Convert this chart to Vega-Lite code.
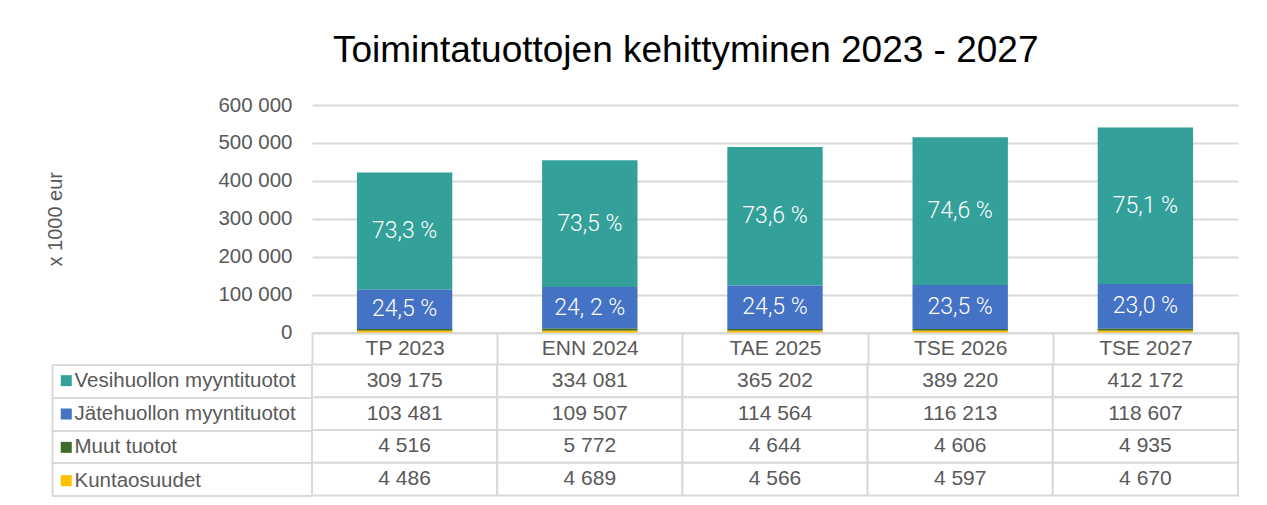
{
  "$schema": "https://vega.github.io/schema/vega-lite/v6.json",
  "background": "white",
  "padding": {"left": 45, "top": 32, "right": 28, "bottom": 9},
  "title": {
    "text": "Toimintatuottojen kehittyminen 2023 - 2027",
    "font": "Liberation Sans",
    "fontSize": 37,
    "fontWeight": "normal",
    "color": "#000000",
    "anchor": "start",
    "frame": "group",
    "dx": 21,
    "offset": 25
  },
  "data": {
    "values": [
      {"cat": "TP 2023", "series": "Vesihuollon myyntituotot", "k": 4, "value": 309175, "lbl": "73,3  %"},
      {"cat": "TP 2023", "series": "Jätehuollon myyntituotot", "k": 3, "value": 103481, "lbl": "24,5 %"},
      {"cat": "TP 2023", "series": "Muut tuotot", "k": 2, "value": 4516, "lbl": ""},
      {"cat": "TP 2023", "series": "Kuntaosuudet", "k": 1, "value": 4486, "lbl": ""},
      {"cat": "ENN 2024", "series": "Vesihuollon myyntituotot", "k": 4, "value": 334081, "lbl": "73,5 %"},
      {"cat": "ENN 2024", "series": "Jätehuollon myyntituotot", "k": 3, "value": 109507, "lbl": "24, 2 %"},
      {"cat": "ENN 2024", "series": "Muut tuotot", "k": 2, "value": 5772, "lbl": ""},
      {"cat": "ENN 2024", "series": "Kuntaosuudet", "k": 1, "value": 4689, "lbl": ""},
      {"cat": "TAE 2025", "series": "Vesihuollon myyntituotot", "k": 4, "value": 365202, "lbl": "73,6 %"},
      {"cat": "TAE 2025", "series": "Jätehuollon myyntituotot", "k": 3, "value": 114564, "lbl": "24,5 %"},
      {"cat": "TAE 2025", "series": "Muut tuotot", "k": 2, "value": 4644, "lbl": ""},
      {"cat": "TAE 2025", "series": "Kuntaosuudet", "k": 1, "value": 4566, "lbl": ""},
      {"cat": "TSE 2026", "series": "Vesihuollon myyntituotot", "k": 4, "value": 389220, "lbl": "74,6 %"},
      {"cat": "TSE 2026", "series": "Jätehuollon myyntituotot", "k": 3, "value": 116213, "lbl": "23,5 %"},
      {"cat": "TSE 2026", "series": "Muut tuotot", "k": 2, "value": 4606, "lbl": ""},
      {"cat": "TSE 2026", "series": "Kuntaosuudet", "k": 1, "value": 4597, "lbl": ""},
      {"cat": "TSE 2027", "series": "Vesihuollon myyntituotot", "k": 4, "value": 412172, "lbl": "75,1 %"},
      {"cat": "TSE 2027", "series": "Jätehuollon myyntituotot", "k": 3, "value": 118607, "lbl": "23,0 %"},
      {"cat": "TSE 2027", "series": "Muut tuotot", "k": 2, "value": 4935, "lbl": ""},
      {"cat": "TSE 2027", "series": "Kuntaosuudet", "k": 1, "value": 4670, "lbl": ""}
    ]
  },
  "bounds": "flush",
  "spacing": 31.5,
  "vconcat": [
    {
      "width": 926,
      "height": 227.5,
      "encoding": {
        "x": {
          "field": "cat", "type": "nominal", "sort": null, "title": null,
          "scale": {"paddingInner": 0, "paddingOuter": 0},
          "axis": {
            "labelAngle": 0,
            "labelFont": "Liberation Sans",
            "labelFontSize": 21,
            "labelColor": "#595959",
            "labelBaseline": "middle",
            "labelPadding": -16,
            "tickBand": "extent",
            "tickSize": 31.5,
            "tickColor": "#d9d9d9",
            "tickWidth": 2,
            "domainColor": "#d9d9d9",
            "domainWidth": 2,
            "grid": false
          }
        },
        "y": {
          "field": "value", "type": "quantitative", "stack": "zero",
          "scale": {"domain": [0, 600000], "nice": false},
          "axis": {
            "values": [0, 100000, 200000, 300000, 400000, 500000, 600000],
            "format": ",d",
            "labelOverlap": false,
            "labelSeparation": 0,
            "title": "x 1000 eur",
            "titleX": -251,
            "titleY": 113.75,
            "titleAngle": 270,
            "titleAlign": "center",
            "titleBaseline": "alphabetic",
            "titleFont": "Liberation Sans",
            "titleFontSize": 20,
            "titleFontWeight": "normal",
            "titleColor": "#595959",
            "labelFont": "Liberation Sans",
            "labelFontSize": 20.5,
            "labelColor": "#595959",
            "labelPadding": 20,
            "ticks": false,
            "domain": false,
            "grid": true,
            "gridColor": "#d9d9d9",
            "gridWidth": 2
          }
        },
        "order": {"field": "k", "type": "quantitative"}
      },
      "layer": [
        {
          "mark": {"type": "bar", "width": {"band": 0.515}},
          "encoding": {
            "color": {
              "field": "series", "type": "nominal",
              "scale": {
                "domain": ["Vesihuollon myyntituotot", "Jätehuollon myyntituotot", "Muut tuotot", "Kuntaosuudet"],
                "range": ["#33a09a", "#4472c4", "#3e6b27", "#ffc000"]
              },
              "legend": {
                "orient": "none",
                "legendX": -256,
                "legendY": 265.4,
                "title": null,
                "padding": 0,
                "direction": "vertical",
                "symbolType": "square",
                "symbolSize": 121,
                "symbolStrokeWidth": 0,
                "symbolOffset": 0,
                "labelOffset": -2,
                "labelFont": "Liberation Sans",
                "labelFontSize": 20.5,
                "labelColor": "#595959",
                "labelLimit": 400,
                "rowPadding": 12.35
              }
            }
          }
        },
        {
          "mark": {"type": "text", "font": "Roboto", "fontSize": 23, "fontWeight": 300, "color": "#ffffff", "baseline": "middle", "align": "center"},
          "encoding": {
            "y": {"field": "value", "type": "quantitative", "stack": "zero", "bandPosition": 0.5},
            "detail": {"field": "series", "type": "nominal"},
            "text": {"field": "lbl", "type": "nominal"}
          }
        }
      ]
    },
    {
      "width": 926,
      "height": 131,
      "layer": [
        {
          "mark": {"type": "rect", "fill": "#ffffff", "stroke": "#d9d9d9", "strokeWidth": 2},
          "encoding": {
            "x": {"field": "cat", "type": "nominal", "sort": null, "scale": {"paddingInner": 0, "paddingOuter": 0}, "axis": null},
            "y": {
              "field": "series", "type": "nominal",
              "sort": ["Vesihuollon myyntituotot", "Jätehuollon myyntituotot", "Muut tuotot", "Kuntaosuudet"],
              "scale": {"paddingInner": 0, "paddingOuter": 0},
              "axis": {
                "title": null,
                "labels": false,
                "offset": 260,
                "tickSize": -260,
                "tickBand": "extent",
                "tickColor": "#d9d9d9",
                "tickWidth": 2,
                "domainColor": "#d9d9d9",
                "domainWidth": 2,
                "grid": false
              }
            }
          }
        },
        {
          "mark": {"type": "text", "font": "Liberation Sans", "fontSize": 21, "color": "#595959", "baseline": "middle", "align": "center"},
          "encoding": {
            "x": {"field": "cat", "type": "nominal", "sort": null},
            "y": {"field": "series", "type": "nominal", "sort": ["Vesihuollon myyntituotot", "Jätehuollon myyntituotot", "Muut tuotot", "Kuntaosuudet"]},
            "text": {"field": "value", "type": "quantitative", "format": ",d"}
          }
        }
      ]
    }
  ],
  "config": {
    "view": {"stroke": null},
    "font": "Liberation Sans",
    "locale": {"number": {"decimal": ",", "thousands": " ", "grouping": [3], "currency": ["", " €"]}}
  }
}
